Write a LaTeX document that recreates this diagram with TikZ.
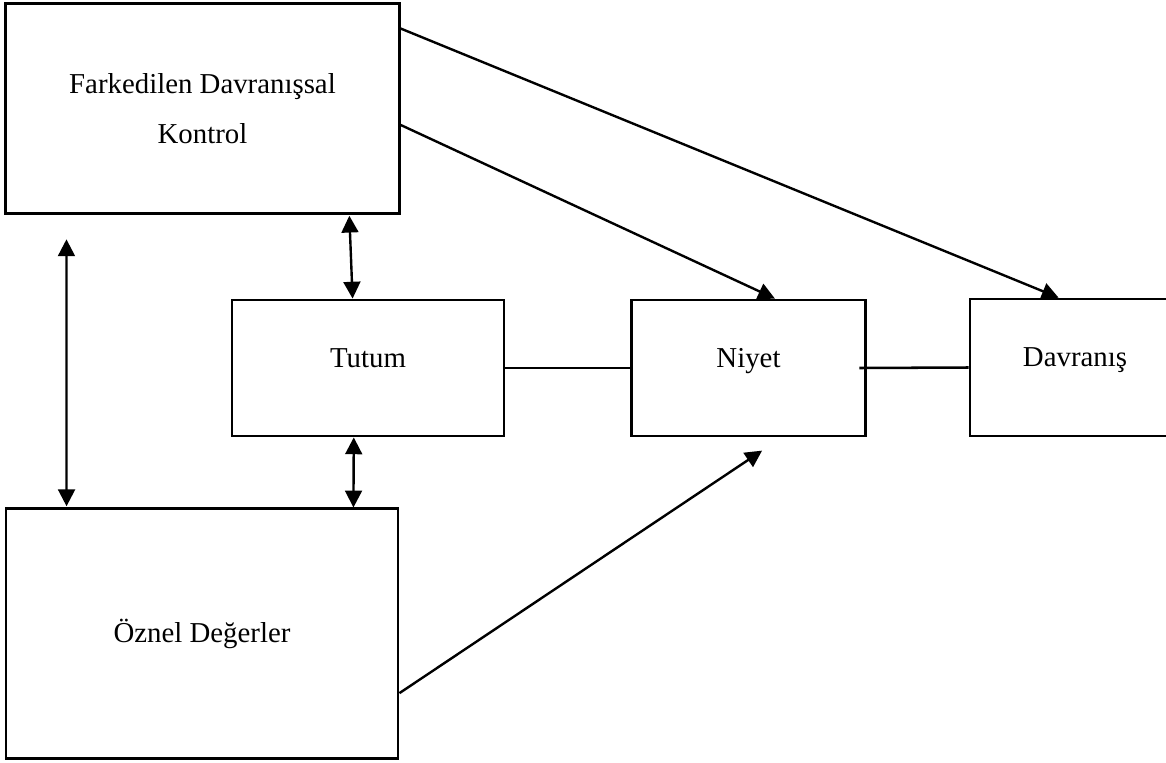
\documentclass[tikz,border=0pt]{standalone}
\usepackage{fontspec}
\setmainfont{Liberation Serif}
\usetikzlibrary{arrows.meta,positioning}
\tikzset{
  frame/.style={draw=black,line width=2pt,inner sep=0pt,align=center,
                font=\fontsize{20.5pt}{36pt}\selectfont},
  link/.style={black,line width=1.8pt},
  flow/.style={-{Triangle[length=4.2mm,width=4.2mm]},line width=1.7pt},
  both/.style={{Triangle[length=4.2mm,width=4.2mm]}-{Triangle[length=4.2mm,width=4.2mm]},line width=1.7pt},
}
\begin{document}
\begin{tikzpicture}[x=0.025cm,y=-0.025cm]
  \path[use as bounding box] (0,0) rectangle (1166,763);

  \node[frame,minimum width=9.83cm,minimum height=5.23cm] (kontrol) at (202.5,108.5)
    {Farkedilen Davranışsal\\Kontrol};
  \node[frame,minimum width=6.8cm,minimum height=3.4cm] (tutum) at (368,368)
    {\raisebox{0.5cm}{Tutum}};
  \node[frame,minimum width=5.83cm,minimum height=3.4cm] (niyet) at (748.5,368)
    {\raisebox{0.5cm}{Niyet}};
  \node[frame,minimum width=5.25cm,minimum height=3.42cm] (davranis) at (1075,367.5)
    {\raisebox{0.5cm}{Davranış}};
  \node[frame,minimum width=9.8cm,minimum height=6.23cm] (oznel) at (202,633.5)
    {Öznel Değerler};

  \draw[flow] ([yshift=-0.41cm]kontrol.east) -- ([xshift=0.66cm]niyet.north);
  \draw[flow] ([yshift=-0.65cm]kontrol.north east) -- ([xshift=2.25cm]davranis.north west);
  \draw[both] ([xshift=1.55cm,yshift=-0.62cm]kontrol.south west) -- ([xshift=1.55cm,yshift=0.03cm]oznel.north west);
  \draw[both] ([xshift=8.62cm,yshift=-0.03cm]kontrol.south west) -- ([xshift=3.05cm]tutum.north west);
  \draw[both] ([xshift=3.08cm]tutum.south west) -- ([xshift=8.72cm]oznel.north west);
  \draw[flow] ([yshift=-1.49cm]oznel.east) -- ([xshift=0.34cm,yshift=-0.33cm]niyet.south);
  \draw[link] (tutum.east) -- (niyet.west);
  \draw[link] ([xshift=-0.18cm]niyet.east) -- (davranis.west);
\end{tikzpicture}
\end{document}
